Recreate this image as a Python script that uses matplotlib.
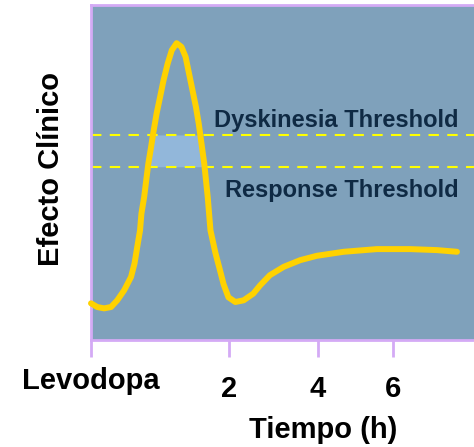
import matplotlib
matplotlib.use('Agg')
import matplotlib.pyplot as plt
import matplotlib.transforms as mtransforms
import numpy as np

plt.rcParams['font.family'] = ['Liberation Sans', 'DejaVu Sans']

# clinical effect curve after a levodopa dose
time = [0.00, 0.09, 0.19, 0.29, 0.38, 0.48, 0.58, 0.63, 0.67, 0.71,
        0.73, 0.77, 0.80, 0.83, 0.87, 0.90, 0.95, 1.00, 1.05, 1.11,
        1.17, 1.24, 1.31, 1.37, 1.42, 1.47, 1.52, 1.56, 1.58, 1.64,
        1.69, 1.73, 1.80, 1.86, 1.92, 1.99, 2.09, 2.21, 2.35, 2.45,
        2.59, 2.79, 3.03, 3.27, 3.66, 4.14, 4.62, 5.01, 5.30]
effect = [11.0, 9.9, 9.5, 9.9, 11.9, 14.9, 18.9, 22.9, 27.9, 32.8,
          37.8, 42.8, 47.8, 52.7, 57.7, 61.7, 67.7, 72.6, 77.6, 82.6,
          86.6, 88.7, 87.6, 84.6, 79.6, 74.6, 69.6, 64.7, 61.7, 52.7,
          42.8, 32.8, 26.2, 21.5, 16.7, 12.8, 11.4, 11.9, 13.9, 16.4,
          19.4, 21.9, 23.9, 25.2, 26.4, 27.2, 27.2, 26.9, 26.4]

dyskinesia_threshold = 61.3
response_threshold = 51.8

tick_pos = [0, 2, 3.28, 4.38]
tick_labels = ['Levodopa', '2', '4', '6']

purple = '#d4aaf5'
navy = '#0f2a44'

fig = plt.figure(figsize=(4.74, 4.47), dpi=100)
ax = fig.add_axes([0.192, 0.239, 0.81, 0.749])
ax.set_facecolor('#7fa1bb')

t = np.array(time)
e = np.array(effect)
ax.fill_between(t, response_threshold,
                np.clip(e, response_threshold, dyskinesia_threshold),
                color='#92b7da', lw=0, zorder=1)

ax.axhline(dyskinesia_threshold, color='#ffff00', lw=1.5, dashes=(5, 4), zorder=2)
ax.axhline(response_threshold, color='#ffff00', lw=1.5, dashes=(5, 4), zorder=2)

ax.plot(t, e, color='#ffd200', lw=4.3, solid_capstyle='round',
        solid_joinstyle='round', zorder=3, clip_on=False)

ax.text(5.32, 65.7, 'Dyskinesia Threshold', ha='right', va='center',
        fontsize=17, fontweight='bold', color=navy)
ax.text(5.32, 44.8, 'Response Threshold', ha='right', va='center',
        fontsize=17, fontweight='bold', color=navy)

ax.set_xlim(0, 5.56)
ax.set_ylim(0, 100)

for side in ['left', 'top', 'bottom']:
    ax.spines[side].set_color(purple)
    ax.spines[side].set_linewidth(2)
ax.spines['right'].set_visible(False)

ax.set_yticks([])
ax.set_xticks(tick_pos)
ax.set_xticklabels(tick_labels, fontsize=21, fontweight='bold')
ax.tick_params(axis='x', length=12, width=2, color=purple, pad=13)

# Levodopa label sits a bit higher than the hour labels
lab = ax.get_xticklabels()[0]
lab.set_transform(lab.get_transform() +
                  mtransforms.ScaledTranslation(0, 6 / 72, fig.dpi_scale_trans))

ax.set_xlabel('Tiempo (h)', fontsize=21, fontweight='bold')
ax.xaxis.label.set_va('center')
ax.xaxis.set_label_coords(0.604, -0.269)

ax.set_ylabel('Efecto Clínico', fontsize=21, fontweight='bold')
ax.yaxis.label.set_va('center')
ax.yaxis.set_label_coords(-0.105, 0.51)

fig.savefig('out.png', dpi=100)
